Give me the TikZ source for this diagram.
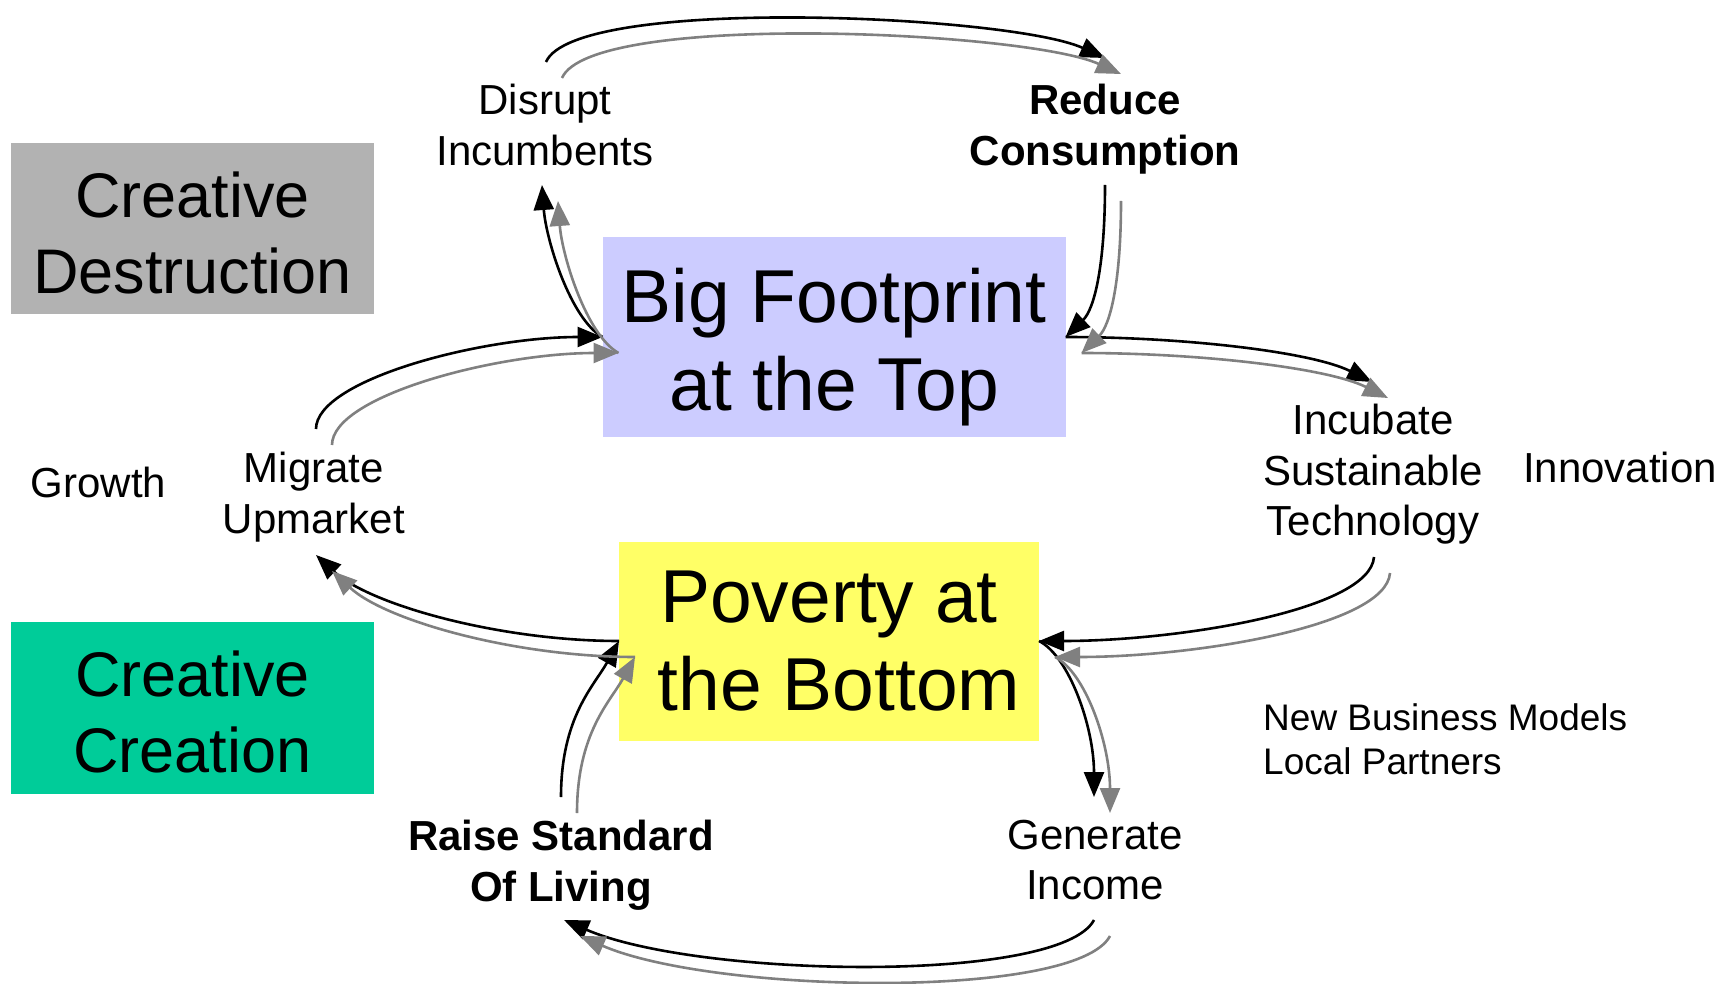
\documentclass[tikz,border=0pt]{standalone}
\usepackage{fontspec}
\setmainfont{Liberation Sans}
\usetikzlibrary{arrows.meta}
\definecolor{destgray}{HTML}{B2B2B2}
\definecolor{creagreen}{HTML}{00CC99}
\definecolor{topblue}{HTML}{CCCCFF}
\definecolor{botyellow}{HTML}{FFFF66}
\definecolor{linegray}{HTML}{808080}
\tikzset{
  box/.style={inner sep=0pt, outer sep=0pt},
  bigtxt/.style={font=\fontsize{75}{88}\selectfont, align=center, inner sep=0pt, anchor=north},
  sidetxt/.style={font=\fontsize{63}{75.6}\selectfont, align=center, inner sep=0pt, anchor=north},
  lbl/.style={font=\fontsize{42}{50.4}\selectfont, align=center, inner sep=0pt, anchor=north},
  note/.style={font=\fontsize{37}{44.4}\selectfont, align=left, inner sep=0pt, anchor=north west},
  flow/.style={draw=#1, line width=2.6pt, -{Triangle[length=25pt,width=20pt]}}
}
\begin{document}
\begin{tikzpicture}[x=1pt, y=1pt]
\useasboundingbox (0,0) rectangle (1724,-984);

\node[box, fill=destgray, minimum width=363pt, minimum height=171pt] (dest) at (192.5,-228.5) {};
\node[sidetxt] at (192.5,-171.6) {Creative\\Destruction};
\node[box, fill=creagreen, minimum width=363pt, minimum height=172pt] (crea) at (192.5,-708) {};
\node[sidetxt] at (192.5,-651) {Creative\\Creation};

\node[box, fill=topblue, minimum width=463pt, minimum height=199pt] (top) at (834,-337) {};
\node[bigtxt] at (834,-268.3) {Big Footprint\\at the Top};
\node[box, fill=botyellow, minimum width=420pt, minimum height=199pt] (bot) at (829,-641) {};
\node[bigtxt] at (829,-570.3) {Poverty at\\\hspace*{20pt}the Bottom};

\node[lbl] (dis) at (545,-84) {Disrupt\\Incumbents};
\node[lbl, font=\fontsize{42}{50.4}\selectfont\bfseries] (red) at (1105,-84) {Reduce\\Consumption};
\node[lbl] (inc) at (1373,-404) {Incubate\\Sustainable\\Technology};
\node[lbl] (gen) at (1095,-820) {Generate\\Income};
\node[lbl, font=\fontsize{42}{50.4}\selectfont\bfseries] (raise) at (561,-820) {Raise Standard\\Of Living};
\node[lbl] (mig) at (314,-452) {Migrate\\Upmarket};
\node[lbl] (grow) at (98.5,-467) {Growth};
\node[lbl] (inno) at (1620,-452) {Innovation};
\node[note] (biz) at (1263,-703.5) {New Business Models\\Local Partners};

\foreach \c/\o in {black/0, linegray/16} {
  \draw[flow=\c] ([shift={(1+\o,22-\o)}]dis.north) .. controls +(29,67) and +(-95,43) .. ([shift={(\o,26-\o)}]red.north);
  \draw[flow=\c] ([shift={(\o,-101-\o)}]red.north) .. controls +(0,-80) and +(29,28) .. ([shift={(\o,-\o)}]top.east);
  \draw[flow=\c] ([shift={(\o,-\o)}]top.east) .. controls +(120,0) and +(-60,30) .. ([shift={(-1+\o,22-\o)}]inc.north);
  \draw[flow=\c] ([shift={(1+\o,-153-\o)}]inc.north) .. controls +(-4,-53) and +(140,0) .. ([shift={(\o,-\o)}]bot.east);
  \draw[flow=\c] ([shift={(\o,-\o)}]bot.east) .. controls +(30,-15) and +(0,70) .. ([shift={(-1+\o,23-\o)}]gen.north);
  \draw[flow=\c] ([shift={(-1+\o,-100-\o)}]gen.north) .. controls +(-34,-64) and +(134,-58) .. ([shift={(3+\o,-100-\o)}]raise.north);
  \draw[flow=\c] ([shift={(\o,23-\o)}]raise.north) .. controls +(0,80) and +(-25,-45) .. ([shift={(\o,-\o)}]bot.west);
  \draw[flow=\c] ([shift={(\o,-\o)}]bot.west) .. controls +(-119,0) and +(54,-50) .. ([shift={(2+\o,-103-\o)}]mig.north);
  \draw[flow=\c] ([shift={(2+\o,23-\o)}]mig.north) .. controls +(0,49) and +(-122,0) .. ([shift={(\o,-\o)}]top.west);
  \draw[flow=\c] ([shift={(\o,-\o)}]top.west) .. controls +(-32,18) and +(4,-55) .. ([shift={(-3+\o,-101-\o)}]dis.north);
}
\end{tikzpicture}
\end{document}
